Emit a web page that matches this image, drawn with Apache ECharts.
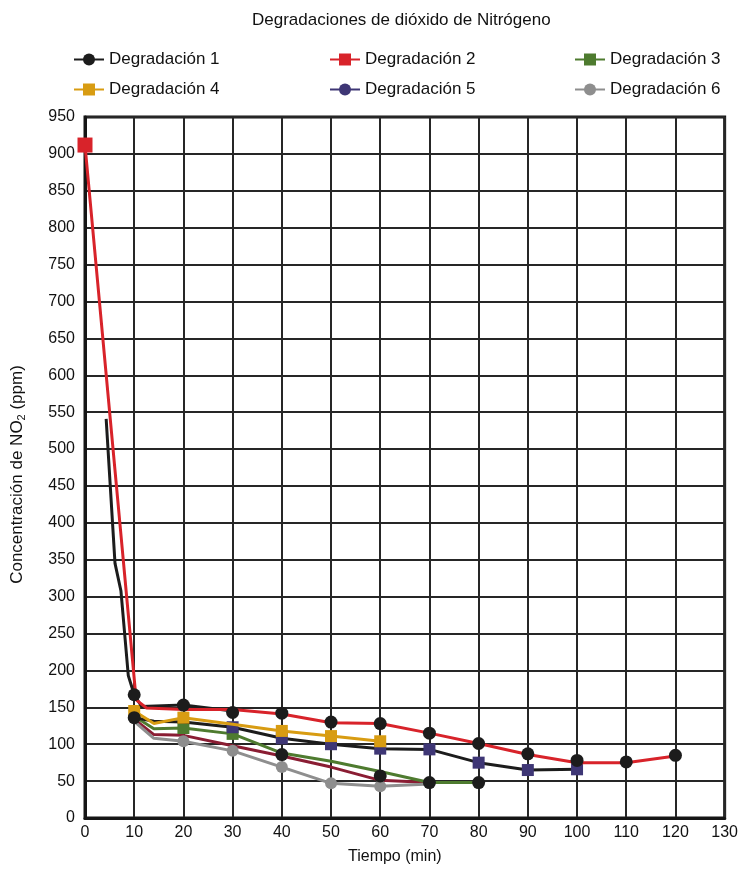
<!DOCTYPE html>
<html>
<head>
<meta charset="utf-8">
<script src="https://cdn.jsdelivr.net/npm/echarts@6/dist/echarts.min.js"></script>
<style>html,body{margin:0;padding:0;background:#fff;}#c{width:741px;height:870px;}</style>
</head>
<body>
<div id="c"></div>
<script>
// ---- data ----
const seriesNames = ['Degradación 1','Degradación 2','Degradación 3','Degradación 4','Degradación 5','Degradación 6'];

const deg1X = [4.3, 6.1, 7.3, 8.8, 10, 11.5, 20, 30];
const deg1Y = [541, 345, 308, 193, 167, 151, 153, 145];

const deg2X = [0, 10.4, 12.5, 20, 30, 40, 50, 60, 70, 80, 90, 100, 110, 120];
const deg2Y = [912, 160, 149, 147, 147, 141, 129, 128, 115, 101, 86, 75, 75, 84];
const deg2Marks = [0];

const deg3X = [10, 14, 20, 30, 40, 50, 60, 70, 80];
const deg3Y = [138, 121, 122, 114, 88, 77, 63, 48, 48];
const deg3Marks = [20, 30];

const deg4X = [10, 14, 20, 30, 40, 50, 60];
const deg4Y = [145, 128, 136, 127, 118, 111, 104];
const deg4Marks = [10, 20, 40, 50, 60];

const deg5X = [10, 14, 20, 30, 40, 50, 60, 70, 80, 90, 100];
const deg5Y = [136, 131, 130, 123, 108, 100, 94, 93, 75, 65, 66];
const deg5Marks = [30, 40, 50, 60, 70, 80, 90, 100];

const deg6X = [10, 14, 20, 30, 40, 50, 60, 70];
const deg6Y = [131, 108, 104, 91, 69, 47, 43, 46];
const deg6Marks = [20, 30, 40, 50, 60];

const extraLineX = [10, 14, 20, 30, 40, 50, 60, 70];
const extraLineY = [134, 113, 112, 98, 84, 69, 51, 48];

const dotsX = [10, 20, 30, 40, 50, 60, 70, 80, 90, 100, 110, 120, 10, 40, 60, 70, 80];
const dotsY = [167, 153, 143, 142, 130, 128, 115, 101, 87, 78, 76, 85, 136, 86, 57, 48, 48];

const titleText = 'Degradaciones de dióxido de Nitrógeno';
const xName = 'Tiempo (min)';
const yName = 'Concentración de NO{s|2} (ppm)';

// ---- styles ----
const C = {
  black: '#1c1c1c', red: '#d8232a', green: '#4e7b2f', yellow: '#d89c12',
  purple: '#3e3675', grey: '#8e8e8e', maroon: '#8a1d33'
};
const FONT = '"Liberation Sans", Arial, Helvetica, sans-serif';
const TXT = '#111';

function pts(xs, ys, marks) {
  return xs.map((x, i) => {
    const it = { value: [x, ys[i]] };
    if (!marks || marks.indexOf(x) < 0) it.symbol = 'none';
    return it;
  });
}

function lineSeries(name, xs, ys, marks, lineColor, markColor, symbol, size, z) {
  return {
    name: name, type: 'line', data: pts(xs, ys, marks),
    symbol: symbol, symbolSize: size, showSymbol: true,
    lineStyle: { color: lineColor, width: 3 },
    itemStyle: { color: markColor },
    z: z, animation: false, silent: true
  };
}

const chart = echarts.init(document.getElementById('c'), null, { renderer: 'canvas' });

const legendBase = {
  orient: 'vertical', itemGap: 13, itemWidth: 30, itemHeight: 15,
  textStyle: { fontSize: 17, color: TXT, fontFamily: FONT },
  selectedMode: false
};

const option = {
  animation: false,
  textStyle: { fontFamily: FONT },
  title: {
    text: titleText, left: 247, top: 7,
    textStyle: { fontSize: 17, fontWeight: 'normal', color: TXT, fontFamily: FONT }
  },
  legend: [
    Object.assign({}, legendBase, { left: 68, top: 46, data: [seriesNames[0], seriesNames[3]] }),
    Object.assign({}, legendBase, { left: 324, top: 46,
      data: [seriesNames[1], { name: seriesNames[4], lineStyle: { color: C.purple } }] }),
    Object.assign({}, legendBase, { left: 569, top: 46, data: [seriesNames[2], seriesNames[5]] })
  ],
  grid: {
    left: 85, right: 13, top: 117, bottom: 47,
    show: true, borderColor: '#151515', borderWidth: 3, backgroundColor: 'transparent'
  },
  xAxis: {
    type: 'value', min: 0, max: 130, interval: 10,
    name: xName, nameLocation: 'middle', nameGap: 31,
    nameTextStyle: { fontSize: 16, color: TXT, padding: [0, 20, 0, 0] },
    axisLine: { show: true, lineStyle: { color: '#151515', width: 3 } },
    axisTick: { show: false },
    axisLabel: { fontSize: 16, color: TXT, margin: 7 },
    splitLine: { show: true, lineStyle: { color: '#262626', width: 2 } }
  },
  yAxis: {
    type: 'value', min: 0, max: 950, interval: 50,
    name: yName, nameLocation: 'middle', nameGap: 58, nameRotate: 90,
    nameTextStyle: { fontSize: 17, color: TXT, padding: [0, 14, 0, 0],
      rich: { s: { fontSize: 11, padding: [9, 0, 0, 0], color: TXT } } },
    axisLine: { show: true, lineStyle: { color: '#151515', width: 3 } },
    axisTick: { show: false },
    axisLabel: { fontSize: 16, color: TXT, margin: 10 },
    splitLine: { show: true, lineStyle: { color: '#262626', width: 2 } }
  },
  series: [
    lineSeries('extra', extraLineX, extraLineY, [], C.maroon, C.maroon, 'none', 0, 2),
    lineSeries(seriesNames[5], deg6X, deg6Y, deg6Marks, C.grey, C.grey, 'circle', 12, 3),
    lineSeries(seriesNames[2], deg3X, deg3Y, deg3Marks, C.green, C.green, 'rect', 12, 4),
    lineSeries(seriesNames[4], deg5X, deg5Y, deg5Marks, C.black, C.purple, 'circle', 12, 5),
    lineSeries(seriesNames[3], deg4X, deg4Y, deg4Marks, C.yellow, C.yellow, 'rect', 12, 6),
    lineSeries(seriesNames[0], deg1X, deg1Y, [], C.black, C.black, 'circle', 12, 7),
    lineSeries(seriesNames[1], deg2X, deg2Y, deg2Marks, C.red, C.red, 'rect', 15, 8),
    {
      name: 'dots', type: 'scatter', symbol: 'circle', symbolSize: 13,
      data: dotsX.map((x, i) => [x, dotsY[i]]),
      itemStyle: { color: C.black, opacity: 1 }, z: 9, silent: true
    }
  ]
};
// purple squares on the black line: set per-item symbol
option.series[3].data.forEach(d => { if (d.symbol !== 'none') d.symbol = 'rect'; });

chart.setOption(option);
</script>
</body>
</html>
